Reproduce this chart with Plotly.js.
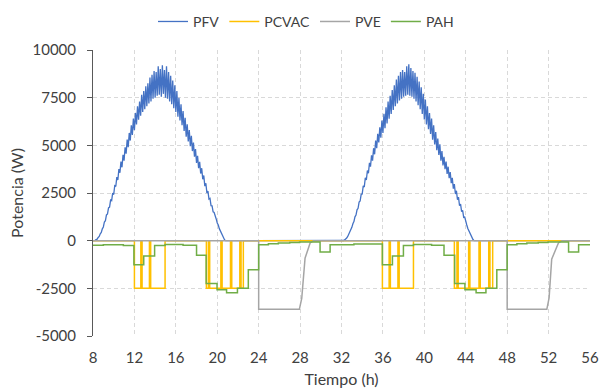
<!DOCTYPE html>
<html>
<head>
<meta charset="utf-8">
<script src="https://cdn.plot.ly/plotly-3.0.1.min.js"></script>
<style>
  html, body { margin: 0; padding: 0; background: #ffffff; }
  #chart { width: 600px; height: 392px; }
</style>
</head>
<body>
<div id="chart"></div>
<script>
// ---- Data ----
const seriesNames = ["PFV", "PCVAC", "PVE", "PAH"];

// PFV sampled every 0.1 h, day 1 from 8.0 h, day 2 from 32.0 h (W)
const pfvStep = 0.1;
const pfvDay1Start = 8.0;
const pfvDay1 = [
  0, 5, 20, 60, 80, 170, 220, 360, 430, 620,
  720, 980, 1050, 1350, 1400, 1720, 1760, 2130, 2100, 2500,
  2420, 2880, 2840, 3330, 3180, 3750, 3560, 4150, 3850, 4500,
  4200, 4900, 4560, 5300, 4900, 5650, 5250, 6050, 5550, 6400,
  5800, 6700, 6100, 7050, 6350, 7300, 6550, 7650, 6750, 7850,
  6900, 8100, 7050, 8250, 7200, 8550, 7300, 8700, 7450, 8900,
  7500, 8850, 7600, 9150, 7650, 9000, 7550, 9200, 7700, 8950,
  7500, 9150, 7450, 8850, 7300, 8650, 7150, 8400, 6950, 8150,
  6750, 7850, 6500, 7500, 6300, 7150, 6050, 6800, 5750, 6450,
  5450, 6100, 5200, 5800, 4950, 5500, 4700, 5150, 4400, 4800,
  4080, 4450, 3800, 4130, 3520, 3800, 3220, 3420, 2860, 3010,
  2500, 2600, 2180, 2220, 1840, 1830, 1510, 1480, 1210, 1140,
  920, 820, 630, 520, 370, 255, 125, 50, 0];
const pfvDay2Start = 32.0;
const pfvDay2 = [
  0, 0, 10, 40, 80, 140, 220, 330, 420, 580,
  700, 890, 1000, 1250, 1340, 1620, 1700, 2020, 2080, 2430,
  2450, 2870, 2820, 3300, 3180, 3680, 3540, 4080, 3880, 4480,
  4200, 4850, 4530, 5250, 4850, 5600, 5150, 5950, 5400, 6300,
  5650, 6650, 5900, 7000, 6150, 7300, 6400, 7600, 6650, 7900,
  6850, 8150, 7050, 8450, 7200, 8650, 7350, 8850, 7450, 8950,
  7550, 8850, 7600, 9150, 7650, 9250, 7600, 9050, 7550, 8900,
  7450, 8800, 7300, 8600, 7100, 8350, 6900, 8050, 6650, 7700,
  6350, 7400, 6100, 7050, 5850, 6700, 5600, 6400, 5300, 6050,
  5050, 5700, 4750, 5350, 4500, 5050, 4200, 4700, 3950, 4400,
  3750, 4150, 3500, 3880, 3280, 3600, 3020, 3300, 2730, 2970,
  2450, 2620, 2150, 2280, 1830, 1920, 1520, 1590, 1220, 1240,
  920, 820, 640, 520, 380, 260, 150, 60, 0];
const pfvEndTime = 56;

// PCVAC step series (value holds until next time)
const pcvacTime = [8, 12.0, 12.62, 12.74, 13.45, 13.57, 14.96,
  18.95, 19.15, 19.27, 20.35, 20.47, 21.28, 21.4, 22.18, 22.3, 22.52,
  35.95, 36.6, 36.72, 37.45, 37.57, 38.95,
  42.9, 43.15, 43.27, 44.28, 44.4, 45.28, 45.4, 46.22, 46.34, 46.6, 56];
const pcvacValue = [0, -2500, 0, -2500, 0, -2500, 0,
  -2500, 0, -2500, 0, -2500, 0, -2500, 0, -2500, 0,
  -2500, 0, -2500, 0, -2500, 0,
  -2500, 0, -2500, 0, -2500, 0, -2500, 0, -2500, 0, 0];

// PVE
const pveTime = [8, 24.0, 24.0, 27.93, 28.16, 28.48, 28.97, 29.3,
  48.0, 48.0, 51.83, 52.05, 52.3, 52.95, 53.3, 56];
const pveValue = [0, 0, -3600, -3600, -3030, -920, -120, 0,
  0, -3600, -3600, -3000, -970, -120, 0, 0];

// PAH step series
const pahTime = [8, 9.0, 10.93, 11.95, 12.9, 13.95, 14.96, 16.7, 18.0, 18.93,
  19.98, 20.9, 21.95, 23.0, 24.0, 24.94, 25.9, 27.0, 27.95, 29.93,
  30.9, 33.2, 35.95, 36.92, 37.98, 38.95, 40.7, 41.9, 42.93, 43.92,
  45.0, 45.95, 47.0, 48.0, 48.94, 49.9, 51.0, 51.95, 53.93, 54.9, 56];
const pahValue = [-245, -210, -260, -1260, -800, -260, -200, -240, -760, -2250,
  -2580, -2730, -2500, -1520, -210, -160, -120, -90, -70, -600,
  -210, -170, -1260, -800, -260, -200, -240, -760, -2250, -2580,
  -2730, -2500, -1520, -210, -160, -120, -90, -70, -600, -210, -210];

const xTickVals = [8, 12, 16, 20, 24, 28, 32, 36, 40, 44, 48, 52, 56];
const yTickVals = [-5000, -2500, 0, 2500, 5000, 7500, 10000];
const xTitle = "Tiempo (h)";
const yTitle = "Potencia (W)";

// ---- Build PFV time axis ----
const pfvX = [];
const pfvY = [];
pfvDay1.forEach((v, i) => { pfvX.push(+(pfvDay1Start + i * pfvStep).toFixed(2)); pfvY.push(v); });
pfvDay2.forEach((v, i) => { pfvX.push(+(pfvDay2Start + i * pfvStep).toFixed(2)); pfvY.push(v); });
pfvX.push(pfvEndTime); pfvY.push(0);

const colors = ["#4472C4", "#FFC000", "#A5A5A5", "#70AD47"];
const font = "Lato, 'Open Sans', sans-serif";
const textColor = "#404040";

const traces = [
  { x: pfvX, y: pfvY, name: seriesNames[0], type: "scatter", mode: "lines",
    line: { color: colors[0], width: 1.3 } },
  { x: pcvacTime, y: pcvacValue, name: seriesNames[1], type: "scatter", mode: "lines",
    line: { color: colors[1], width: 1.5, shape: "hv" } },
  { x: pveTime, y: pveValue, name: seriesNames[2], type: "scatter", mode: "lines",
    line: { color: colors[2], width: 1.5 } },
  { x: pahTime, y: pahValue, name: seriesNames[3], type: "scatter", mode: "lines",
    line: { color: colors[3], width: 1.5, shape: "hv" } }
];

const layout = {
  width: 600, height: 392,
  margin: { l: 93, r: 10, t: 50, b: 56 },
  paper_bgcolor: "#ffffff", plot_bgcolor: "#ffffff",
  font: { family: font, size: 14, color: textColor },
  showlegend: true,
  legend: {
    orientation: "h", xref: "container", yref: "container",
    x: 0.51, xanchor: "center", y: 0.985, yanchor: "top",
    font: { family: font, size: 14, color: textColor },
    itemwidth: 30, tracegroupgap: 0
  },
  xaxis: {
    range: [8, 56], tickvals: xTickVals, ticktext: xTickVals.map(String),
    showgrid: true, gridcolor: "#D9D9D9", griddash: "4px,3px", gridwidth: 1,
    zeroline: false, showline: false, ticks: "", ticklabelstandoff: 11,
    tickfont: { family: font, size: 15, color: textColor },
    title: { text: xTitle, font: { family: font, size: 16, color: textColor }, standoff: 8 }
  },
  yaxis: {
    range: [-5000, 10000], tickvals: yTickVals, ticktext: yTickVals.map(String),
    showgrid: true, gridcolor: "#D9D9D9", griddash: "4px,3px", gridwidth: 1,
    zeroline: false, showline: true, linecolor: "#595959", linewidth: 1,
    ticks: "outside", ticklen: 5, tickcolor: "#595959", ticklabelstandoff: 8,
    tickfont: { family: font, size: 15, color: textColor },
    title: { text: yTitle, font: { family: font, size: 16, color: textColor }, standoff: 4 }
  }
};

Plotly.newPlot("chart", traces, layout, { displayModeBar: false, staticPlot: true });
</script>
</body>
</html>
